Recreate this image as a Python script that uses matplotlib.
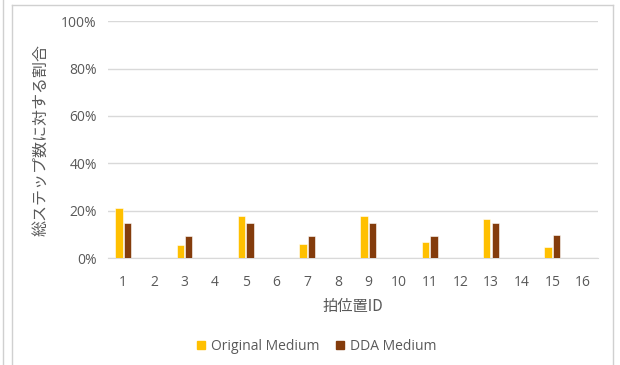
import matplotlib
matplotlib.use("Agg")
import matplotlib.pyplot as plt
from matplotlib.lines import Line2D
import numpy as np

plt.rcParams['font.family'] = ['Open Sans', 'Noto Sans CJK JP', 'DejaVu Sans']

# data (% of total steps per beat position)
beat_ids = [str(i) for i in range(1, 17)]
original_medium = [21.0, 0.2, 5.4, 0.2, 17.6, 0.2, 5.9, 0.2, 17.6, 0.2, 6.8, 0.2, 16.5, 0.2, 4.6, 0.2]
dda_medium = [15.0, 0.2, 9.3, 0.2, 14.8, 0.2, 9.3, 0.2, 14.8, 0.2, 9.3, 0.2, 14.8, 0.2, 9.7, 0.2]
yticks = [0, 20, 40, 60, 80, 100]

c_orig = "#FFC000"
c_dda = "#843C0C"
grey = "#595959"

fig = plt.figure(figsize=(6.2, 3.65), dpi=100)
ax = fig.add_axes([0.174, 0.293, 0.791, 0.649])

x = np.arange(len(beat_ids))
w = 0.24
ax.bar(x - w / 2 - 0.02, original_medium, w, color=c_orig, edgecolor="white", linewidth=0.4,
       label="Original Medium", zorder=3)
ax.bar(x + w / 2 + 0.02, dda_medium, w, color=c_dda, edgecolor="white", linewidth=0.4,
       label="DDA Medium", zorder=3)

ax.set_xlim(-0.5, len(beat_ids) - 0.5)
ax.set_ylim(0, 100)
ax.set_yticks(yticks)
ax.set_yticklabels([f"{v}%" for v in yticks])
ax.set_xticks(x)
ax.set_xticklabels(beat_ids)
ax.grid(axis="y", color="#D9D9D9", linewidth=1, zorder=0)
for s in ["top", "right", "left"]:
    ax.spines[s].set_visible(False)
ax.spines["bottom"].set_color("#D9D9D9")
ax.tick_params(axis="both", length=0, colors=grey, labelsize=10, pad=8)
ax.tick_params(axis="x", pad=12)

ax.set_xlabel("拍位置ID", color=grey, fontsize=11, labelpad=6,
              family=['Noto Sans CJK JP', 'DejaVu Sans'])
ax.set_ylabel("総ステップ数に対する割合", color=grey, fontsize=11.5,
              family=['Noto Sans CJK JP', 'DejaVu Sans'])
ax.yaxis.set_label_coords(-0.12, 0.5)

handles = [Line2D([], [], marker="s", linestyle="", color=c_orig, markersize=6),
           Line2D([], [], marker="s", linestyle="", color=c_dda, markersize=6)]
fig.legend(handles, ["Original Medium", "DDA Medium"], loc="center", bbox_to_anchor=(0.511, 0.052),
           ncol=2, frameon=False, fontsize=10, labelcolor=grey, handlelength=0.6,
           handletextpad=0.4, columnspacing=1.2)

# chart frame lines
fig.add_artist(Line2D([12 / 620, 12 / 620], [0, 1 - 5 / 365], color="#D0D0D0", linewidth=1))
fig.add_artist(Line2D([12 / 620, 613 / 620], [1 - 5 / 365, 1 - 5 / 365], color="#D0D0D0", linewidth=1))
fig.add_artist(Line2D([613 / 620, 613 / 620], [0, 1 - 5 / 365], color="#D0D0D0", linewidth=1))
fig.add_artist(Line2D([3 / 620, 3 / 620], [0, 1], color="#D0D0D0", linewidth=1))

fig.savefig("out.png", dpi=100)
